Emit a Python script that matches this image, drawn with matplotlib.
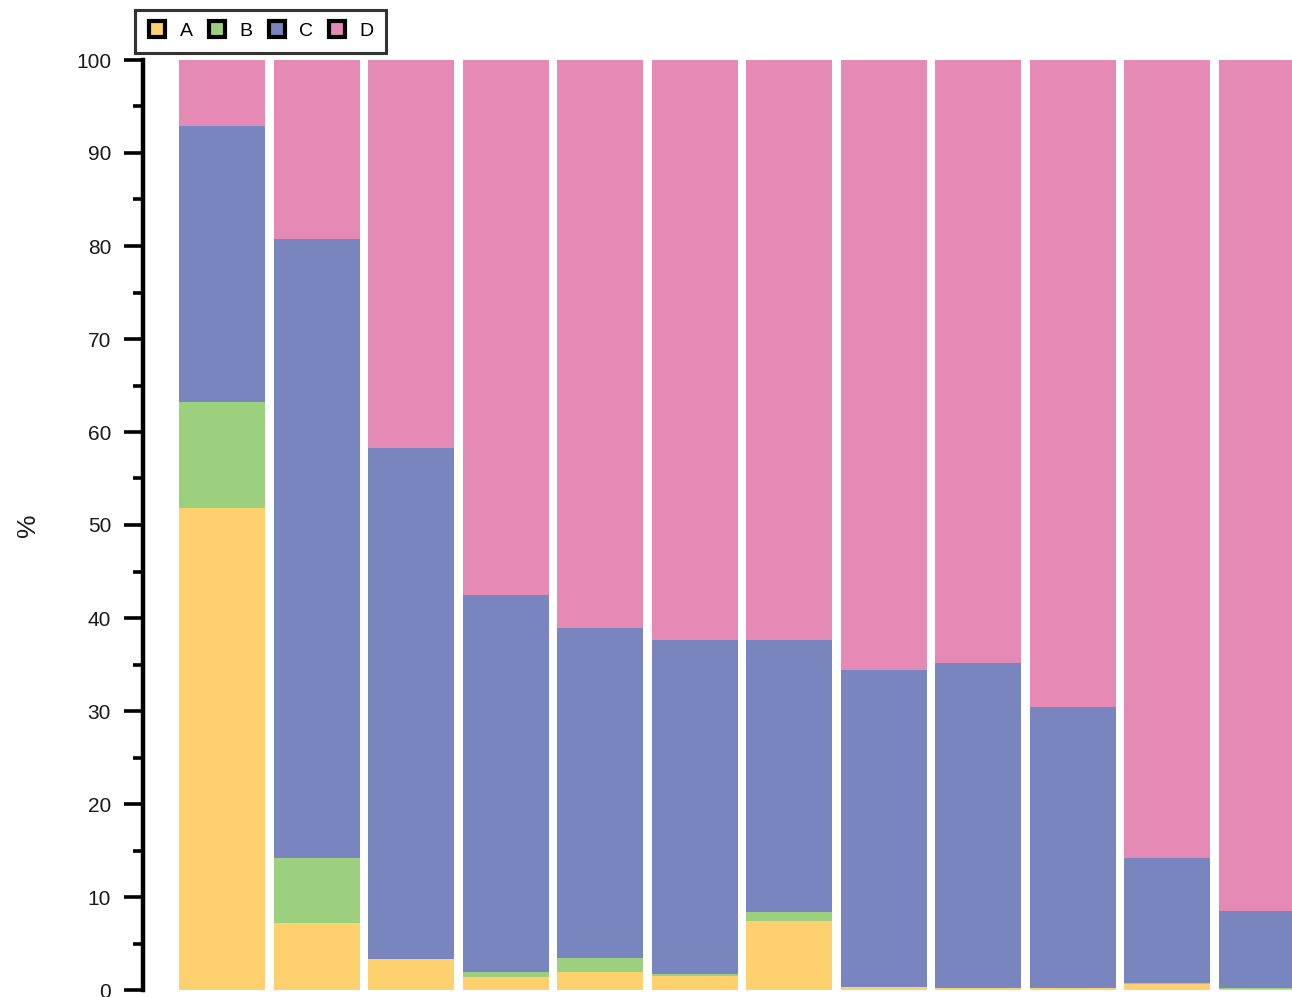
import matplotlib.pyplot as plt
from matplotlib.lines import Line2D
from matplotlib.ticker import MultipleLocator

plt.rcParams['font.family'] = ['Liberation Sans', 'DejaVu Sans']

series = ['A', 'B', 'C', 'D']
colors = ['#FFD06E', '#9DD07E', '#7885BF', '#E589B5']

# percent share of each group per bar (D fills up to 100)
a = [51.8, 7.2, 3.3, 1.4, 1.9, 1.5, 7.4, 0.3, 0.2, 0.2, 0.6, 0.1]
b = [11.4, 7.0, 0.0, 0.5, 1.5, 0.2, 1.0, 0.0, 0.0, 0.0, 0.1, 0.1]
c = [29.7, 66.6, 55.0, 40.6, 35.5, 35.9, 29.2, 34.1, 35.0, 30.2, 13.5, 8.3]
d = [100 - (x + y + z) for x, y, z in zip(a, b, c)]

fig = plt.figure(figsize=(12.92, 9.97), dpi=100)
ax = fig.add_axes([143 / 1292, 7 / 997, 1 - 143 / 1292, 930 / 997])

x = list(range(len(a)))
bottom = [0.0] * len(a)
for vals, col in zip([a, b, c, d], colors):
    ax.bar(x, vals, bottom=bottom, width=0.91, color=col, edgecolor='none')
    bottom = [p + q for p, q in zip(bottom, vals)]

ax.set_xlim(-0.84, 11.32)
ax.set_ylim(0, 100)
ax.set_xticks([])
ax.yaxis.set_major_locator(MultipleLocator(10))
ax.yaxis.set_minor_locator(MultipleLocator(5))
ax.tick_params(axis='y', which='major', length=14, width=2.6, labelsize=15,
               labelcolor='#1a1a1a', pad=9)
ax.tick_params(axis='y', which='minor', length=7, width=2.6)
for s in ['top', 'right', 'bottom']:
    ax.spines[s].set_visible(False)
ax.spines['left'].set_linewidth(3.2)
ax.set_ylabel('%', fontsize=19, color='#1a1a1a')
ax.yaxis.set_label_coords(-0.09, 0.5)

handles = [Line2D([], [], marker='s', linestyle='none', markersize=11,
                  markerfacecolor=col, markeredgecolor='black', markeredgewidth=3)
           for col in colors]
leg = fig.legend(handles, series, loc='upper left', bbox_to_anchor=(135 / 1292, 1 - 10 / 997),
                 ncol=4, fontsize=14, frameon=True, fancybox=False, handletextpad=0.65,
                 columnspacing=0.75, borderpad=0.65, handlelength=1.0, borderaxespad=0)
leg.get_frame().set_edgecolor('black')
leg.get_frame().set_linewidth(2.2)

fig.savefig('out.png', dpi=100)
